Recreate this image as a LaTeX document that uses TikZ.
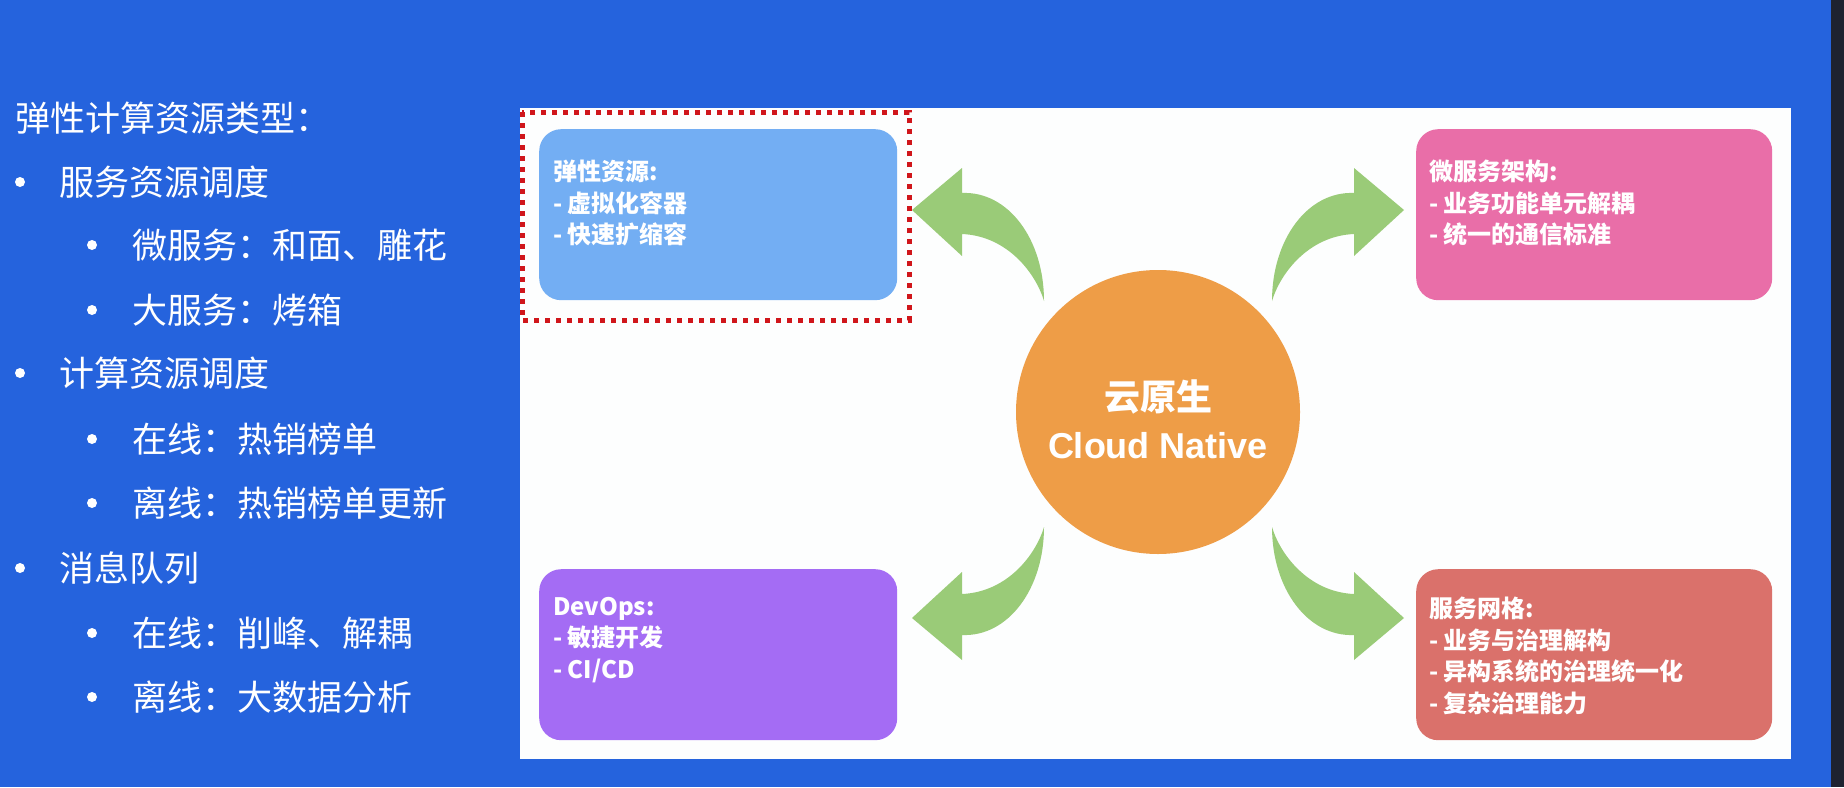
\documentclass[tikz,border=0pt]{standalone}
\usepackage{fontspec}
\newfontfamily\cjk{Noto Sans CJK SC}
\newfontfamily\arialf{Liberation Sans}
\definecolor{bgblue}{HTML}{2563DD}
\definecolor{panelwhite}{HTML}{FDFEFE}
\definecolor{cblue}{HTML}{73AEF3}
\definecolor{cpink}{HTML}{E96EA8}
\definecolor{cpurple}{HTML}{A46CF4}
\definecolor{cred}{HTML}{DA716B}
\definecolor{corange}{HTML}{EE9D47}
\definecolor{agreen}{HTML}{9ACB78}
\definecolor{hired}{HTML}{D0161B}
\definecolor{darkstrip}{HTML}{1E2230}
\newcommand\curlyarrow{%
  \fill[agreen] (-246,-204) -- (-196,-246) -- (-196,-221)
    .. controls (-150,-223) and (-114,-175) .. (-114,-113)
    .. controls (-122,-140) and (-150,-178) .. (-196,-180)
    -- (-196,-158) -- cycle;}
\tikzset{
  listtext/.style={anchor=west, inner sep=0pt, text=white, font=\cjk\fontsize{35}{42}\selectfont},
  bulletdot/.style={circle, fill=white, draw=none, minimum size=10pt, inner sep=0pt},
  card/.style={rounded corners=22pt, inner sep=0pt, draw=none, anchor=north west},
  cardtext/.style={anchor=west, inner sep=0pt, align=left, text=white, font=\cjk\bfseries\fontsize{24}{31.5}\selectfont},
}
\begin{document}
\begin{tikzpicture}[x=1pt,y=-1pt]
\useasboundingbox (0,0) rectangle (1844,787);
\fill[bgblue] (0,0) rectangle (1844,787);
\fill[darkstrip] (1831,0) rectangle (1844,787);
% left list
\node[listtext] (t0) at (15,118) {弹性计算资源类型：};
\node[bulletdot] (b1) at (20,182) {};
\node[listtext] (t1) at (59,182) {服务资源调度};
\node[bulletdot] (b2) at (92,245) {};
\node[listtext] (t2) at (132,245) {微服务：和面、雕花};
\node[bulletdot] (b3) at (92,310) {};
\node[listtext] (t3) at (132,310) {大服务：烤箱};
\node[bulletdot] (b4) at (20,373) {};
\node[listtext] (t4) at (59,373) {计算资源调度};
\node[bulletdot] (b5) at (92,439) {};
\node[listtext] (t5) at (132,439) {在线：热销榜单};
\node[bulletdot] (b6) at (92,503) {};
\node[listtext] (t6) at (132,503) {离线：热销榜单更新};
\node[bulletdot] (b7) at (20,568) {};
\node[listtext] (t7) at (59,568) {消息队列};
\node[bulletdot] (b8) at (92,633) {};
\node[listtext] (t8) at (132,633) {在线：削峰、解耦};
\node[bulletdot] (b9) at (92,697) {};
\node[listtext] (t9) at (132,697) {离线：大数据分析};
% panel
\fill[panelwhite] (520,108) rectangle (1791,759);
% cards
\node[card, fill=cblue, minimum width=358pt, minimum height=171pt] (elastic) at (539,129) {};
\node[card, fill=cpink, minimum width=356pt, minimum height=171pt] (micro) at (1416,129) {};
\node[card, fill=cpurple, minimum width=358pt, minimum height=171pt] (devops) at (539,569) {};
\node[card, fill=cred, minimum width=356pt, minimum height=171pt] (mesh) at (1416,569) {};
\node[cardtext] (elastictxt) at (553,203) {弹性资源:\\- 虚拟化容器\\- 快速扩缩容};
\node[cardtext] (microtxt) at (1429,203) {微服务架构:\\- 业务功能单元解耦\\- 统一的通信标准};
\node[cardtext] (devopstxt) at (553,640) {DevOps:\\- 敏捷开发\\- CI/CD};
\node[cardtext] (meshtxt) at (1429,656) {服务网格:\\- 业务与治理解构\\- 异构系统的治理统一化\\- 复杂治理能力};
% highlight frame
\draw[hired, line width=5pt, dash pattern=on 5pt off 6pt] (522,112) rectangle (909,320);
% arrows
\begin{scope}[shift={(1158,414)}] \curlyarrow \end{scope}
\begin{scope}[shift={(1158,414)}, xscale=-1] \curlyarrow \end{scope}
\begin{scope}[shift={(1158,414)}, yscale=-1] \curlyarrow \end{scope}
\begin{scope}[shift={(1158,414)}, xscale=-1, yscale=-1] \curlyarrow \end{scope}
% center
\node[circle, fill=corange, draw=none, minimum size=284pt, inner sep=0pt] (cloud) at (1158,412) {};
\node[align=center, text=white, inner sep=0pt, font=\bfseries\fontsize{36}{48}\selectfont] (cloudtxt) at (1158,419) {{\cjk 云原生}\\{\arialf Cloud Native}};
\end{tikzpicture}
\end{document}
